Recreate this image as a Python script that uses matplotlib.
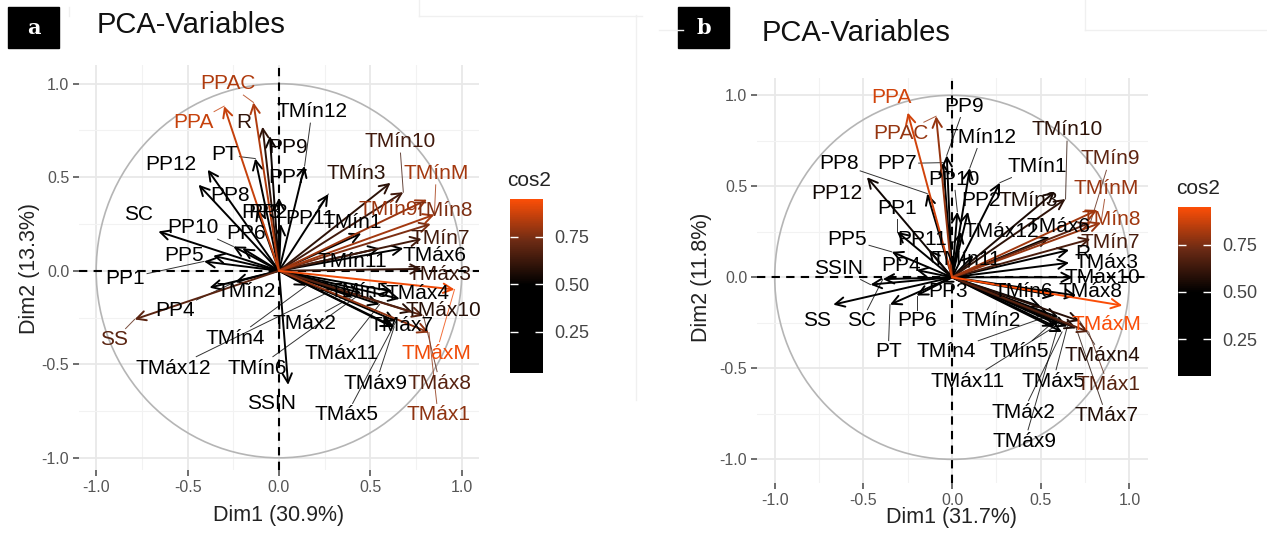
import numpy as np
import matplotlib
matplotlib.use("Agg")
import matplotlib.pyplot as plt
from matplotlib.patches import FancyArrowPatch, Circle, Rectangle
from matplotlib.colors import LinearSegmentedColormap, Normalize
from matplotlib.cm import ScalarMappable
from matplotlib.lines import Line2D

plt.rcParams['font.family'] = ['Liberation Sans', 'DejaVu Sans']

# ---------------- panel a data ----------------
names_a = ['PPAC', 'PPA', 'R', 'PP9', 'TMín12', 'PT', 'PP7', 'PP12', 'PP8', 'PP3',
           'PP2', 'PP11', 'TMín1', 'TMín3', 'TMín10', 'TMínM', 'TMín9', 'TMín8', 'TMín7',
           'TMín11', 'TMáx6', 'TMáx3', 'SC', 'PP10', 'PP6', 'PP5', 'PP1', 'TMín2', 'PP4',
           'SS', 'SSIN', 'TMín4', 'TMáx12', 'TMín6', 'TMáx2', 'TMáx11', 'TMín5', 'TMáx4',
           'TMáx10', 'TMáx7', 'TMáxM', 'TMáx9', 'TMáx5', 'TMáx8', 'TMáx1']
dim1_a = [-0.14, -0.30, -0.09, -0.05, 0.14, -0.13, 0.00, -0.39, -0.44, -0.12,
          0.01, 0.27, 0.45, 0.61, 0.68, 0.85, 0.81, 0.83, 0.78,
          0.55, 0.68, 0.78, -0.66, -0.25, -0.20, -0.36, -0.41, -0.38, -0.24,
          -0.79, 0.05, 0.15, 0.30, 0.45, 0.40, 0.55, 0.62, 0.66,
          0.73, 0.62, 0.96, 0.63, 0.64, 0.79, 0.82]
dim2_a = [0.90, 0.88, 0.77, 0.72, 0.56, 0.60, 0.39, 0.54, 0.46, 0.33,
          0.25, 0.41, 0.20, 0.47, 0.42, 0.30, 0.38, 0.25, 0.17,
          0.12, 0.12, 0.01, 0.21, 0.13, 0.12, 0.08, 0.05, -0.09, -0.06,
          -0.26, -0.61, -0.08, -0.10, -0.12, -0.14, -0.18, -0.11, -0.15,
          -0.22, -0.30, -0.10, -0.30, -0.27, -0.24, -0.33]

# ---------------- panel b data ----------------
names_b = ['PPA', 'PPAC', 'PP9', 'TMín12', 'PP8', 'PP7', 'PP12', 'PP10', 'PP1', 'PP11',
           'PP5', 'PP4', 'SSIN', 'SC', 'PT', 'PP6', 'PP3', 'SS', 'PP2', 'TMín1',
           'TMín3', 'TMín10', 'TMín9', 'TMínM', 'TMín8', 'TMín7', 'TMáx12', 'TMáx6', 'R',
           'TMáx3', 'TMáx10', 'TMín11', 'TMáx8', 'TMín6', 'TMáxM', 'TMín2', 'TMín4',
           'TMín5', 'TMáxn4', 'TMáx11', 'TMáx5', 'TMáx1', 'TMáx2', 'TMáx7', 'TMáx9']
dim1_b = [-0.25, -0.09, -0.03, 0.10, -0.14, -0.05, -0.48, 0.03, -0.31, -0.13,
          -0.34, -0.20, -0.46, -0.39, -0.35, -0.20, -0.06, -0.67, 0.09, 0.27,
          0.58, 0.64, 0.78, 0.84, 0.82, 0.78, 0.05, 0.55, 0.66,
          0.66, 0.68, 0.12, 0.70, 0.58, 0.96, 0.50, 0.55,
          0.60, 0.72, 0.58, 0.65, 0.77, 0.62, 0.70, 0.60]
dim2_b = [0.905, 0.885, 0.67, 0.60, 0.46, 0.63, 0.55, 0.36, 0.25, 0.15,
          0.14, 0.04, -0.04, -0.01, -0.15, -0.10, -0.03, -0.15, 0.36, 0.52,
          0.47, 0.43, 0.30, 0.30, 0.37, 0.21, 0.25, 0.22, 0.15,
          0.08, 0.00, 0.12, -0.10, -0.10, -0.155, -0.16, -0.21,
          -0.22, -0.24, -0.27, -0.27, -0.30, -0.30, -0.28, -0.26]

# repelled label positions (layout, data units)
lab_a = {'PPAC': (-0.28, 1.00), 'PPA': (-0.47, 0.79), 'R': (-0.19, 0.79), 'PP9': (0.05, 0.66),
         'TMín12': (0.18, 0.85), 'PT': (-0.30, 0.62), 'PP7': (0.05, 0.50), 'PP12': (-0.59, 0.57),
         'PP8': (-0.27, 0.40), 'PP3': (-0.10, 0.31), 'PP2': (-0.06, 0.31), 'PP11': (0.17, 0.28),
         'TMín1': (0.40, 0.26), 'TMín3': (0.42, 0.52), 'TMín10': (0.66, 0.69), 'TMínM': (0.86, 0.52),
         'TMín9': (0.60, 0.33), 'TMín8': (0.90, 0.32), 'TMín7': (0.88, 0.17), 'TMín11': (0.40, 0.05),
         'TMáx6': (0.85, 0.08), 'TMáx3': (0.88, -0.02), 'SC': (-0.77, 0.30), 'PP10': (-0.47, 0.23),
         'PP6': (-0.18, 0.20), 'PP5': (-0.52, 0.08), 'PP1': (-0.84, -0.04), 'TMín2': (-0.18, -0.11),
         'PP4': (-0.57, -0.21), 'SS': (-0.90, -0.37), 'SSIN': (-0.04, -0.71), 'TMín4': (-0.24, -0.36),
         'TMáx12': (-0.58, -0.52), 'TMín6': (-0.12, -0.52), 'TMáx2': (0.14, -0.28),
         'TMáx11': (0.34, -0.44), 'TMín5': (0.44, -0.11), 'TMáx4': (0.76, -0.12),
         'TMáx10': (0.90, -0.21), 'TMáx7': (0.67, -0.29), 'TMáxM': (0.86, -0.44),
         'TMáx9': (0.53, -0.60), 'TMáx5': (0.37, -0.77), 'TMáx8': (0.88, -0.60), 'TMáx1': (0.87, -0.77)}
lab_b = {'PPA': (-0.34, 0.99), 'PPAC': (-0.29, 0.79), 'PP9': (0.07, 0.94), 'TMín12': (0.165, 0.77),
         'PP8': (-0.64, 0.625), 'PP7': (-0.31, 0.625), 'PP12': (-0.65, 0.46), 'PP10': (0.01, 0.54),
         'PP1': (-0.31, 0.38), 'PP11': (-0.17, 0.21), 'PP5': (-0.59, 0.21), 'PP4': (-0.29, 0.065),
         'SSIN': (-0.64, 0.05), 'SC': (-0.51, -0.24), 'PT': (-0.36, -0.41), 'PP6': (-0.20, -0.24),
         'PP3': (-0.02, -0.08), 'SS': (-0.76, -0.24), 'PP2': (0.165, 0.42), 'TMín1': (0.48, 0.61),
         'TMín3': (0.43, 0.42), 'TMín10': (0.65, 0.81), 'TMín9': (0.89, 0.65), 'TMínM': (0.87, 0.49),
         'TMín8': (0.90, 0.32), 'TMín7': (0.89, 0.19), 'TMáx12': (0.28, 0.25), 'TMáx6': (0.60, 0.28),
         'R': (0.74, 0.13), 'TMáx3': (0.87, 0.08), 'TMáx10': (0.845, 0.0), 'TMín11': (0.08, 0.10),
         'TMáx8': (0.78, -0.08), 'TMín6': (0.40, -0.08), 'TMáxM': (0.87, -0.26),
         'TMín2': (0.22, -0.24), 'TMín4': (-0.03, -0.41), 'TMín5': (0.38, -0.41),
         'TMáxn4': (0.845, -0.43), 'TMáx11': (0.09, -0.57), 'TMáx5': (0.57, -0.57),
         'TMáx1': (0.88, -0.59), 'TMáx2': (0.40, -0.74), 'TMáx7': (0.87, -0.76), 'TMáx9': (0.41, -0.90)}

W, H = 1267, 533
fig = plt.figure(figsize=(W / 100, H / 100), dpi=100)


def px_axes(left, top, right, bottom):
    return fig.add_axes([left / W, 1 - bottom / H, (right - left) / W, (bottom - top) / H])


def make_cmap(vmin, vmax):
    mid = (0.5 - vmin) / (vmax - vmin)
    return LinearSegmentedColormap.from_list(
        'cos2', [(0, '#000000'), (mid, '#000000'), (mid + (1 - mid) * 0.5, '#6a2a14'),
                 (1, '#FC4E07')])


def pca_panel(ax, names, d1, d2, labpos, xlim, ylim, cmap, norm):
    ax.set_xlim(*xlim)
    ax.set_ylim(*ylim)
    for s in ax.spines.values():
        s.set_visible(False)
    ax.set_xticks([-1, -0.5, 0, 0.5, 1])
    ax.set_yticks([-1, -0.5, 0, 0.5, 1])
    ax.set_xticks([-0.75, -0.25, 0.25, 0.75], minor=True)
    ax.set_yticks([-0.75, -0.25, 0.25, 0.75], minor=True)
    ax.set_xticklabels(['-1.0', '-0.5', '0.0', '0.5', '1.0'])
    ax.set_yticklabels(['-1.0', '-0.5', '0.0', '0.5', '1.0'])
    ax.tick_params(which='major', length=4, width=1.2, color='#555555',
                   labelsize=11.5, labelcolor='#555555', pad=3)
    ax.tick_params(which='minor', length=0)
    ax.grid(True, which='major', color='#e8e8e8', lw=1.3, zorder=0)
    ax.grid(True, which='minor', color='#f2f2f2', lw=0.8, zorder=0)
    ax.set_axisbelow(True)
    ax.add_patch(Circle((0, 0), 1, fill=False, ec='#b5b5b5', lw=1.2, zorder=1))
    ax.axhline(0, color='black', ls=(0, (4, 3)), lw=1.5, zorder=1.5)
    ax.axvline(0, color='black', ls=(0, (4, 3)), lw=1.5, zorder=1.5)

    cos2 = np.array(d1) ** 2 + np.array(d2) ** 2
    colors = [cmap(norm(c)) for c in cos2]
    order = np.argsort(cos2)
    for i in order:
        ax.add_patch(FancyArrowPatch((0, 0), (d1[i], d2[i]),
                                     arrowstyle='->,head_length=0.55,head_width=0.28',
                                     mutation_scale=12, color=colors[i], lw=1.4,
                                     shrinkA=0, shrinkB=0, zorder=3))
    texts = []
    for i, n in enumerate(names):
        lx, ly = labpos[n]
        texts.append(ax.text(lx, ly, n, color=colors[i], fontsize=15,
                             ha='center', va='center', zorder=4))
    fig.canvas.draw()
    inv = ax.transData.inverted()
    for i, t in enumerate(texts):
        bb = t.get_window_extent()
        (x0, y0), (x1, y1) = inv.transform([[bb.x0, bb.y0], [bb.x1, bb.y1]])
        cx, cy = (x0 + x1) / 2, (y0 + y1) / 2
        hw, hh = (x1 - x0) / 2 + 0.01, (y1 - y0) / 2 + 0.01
        dx, dy = d1[i] - cx, d2[i] - cy
        if abs(dx) <= hw and abs(dy) <= hh:
            continue
        s = min(hw / abs(dx) if dx else np.inf, hh / abs(dy) if dy else np.inf)
        sx, sy = cx + dx * s, cy + dy * s
        if np.hypot(d1[i] - sx, d2[i] - sy) < 0.06:
            continue
        ax.plot([sx, d1[i]], [sy, d2[i]], color=colors[i], lw=0.7, alpha=0.8, zorder=2.5)
    return cos2


def axis_labels(xlab, ylab, xc, yc_x, yl_x, yl_y):
    fig.text(xc / W, 1 - yc_x / H, xlab, fontsize=15.5, color='#222222',
             ha='center', va='center')
    fig.text(yl_x / W, 1 - yl_y / H, ylab, rotation=90, fontsize=15.5,
             color='#222222', ha='center', va='center')


def colorbar(left, top, right, bottom, cmap, norm, title_xy):
    cax = px_axes(left, top, right, bottom)
    cb = fig.colorbar(ScalarMappable(norm=norm, cmap=cmap), cax=cax)
    cb.outline.set_visible(False)
    cb.set_ticks([0.25, 0.5, 0.75])
    cb.set_ticklabels(['0.25', '0.50', '0.75'])
    cax.tick_params(axis='y', direction='in', color='white', length=6, width=1,
                    left=True, right=True, labelsize=13, labelcolor='#444444', pad=8)
    fig.text(title_xy[0] / W, 1 - title_xy[1] / H, 'cos2', fontsize=15,
             color='#222222', ha='left', va='center')


# panel a
cmap_a = make_cmap(0.034, 0.95)
norm_a = Normalize(0.034, 0.95)
ax_a = px_axes(79, 65, 479, 470)
pca_panel(ax_a, names_a, dim1_a, dim2_a, lab_a, (-1.094, 1.094), (-1.065, 1.10),
          cmap_a, norm_a)
axis_labels('Dim1 (30.9%)', 'Dim2 (13.3%)', 279, 516, 29, 268)
colorbar(510, 199, 543, 373, cmap_a, norm_a, (507, 180))

# panel b
cmap_b = make_cmap(0.054, 0.95)
norm_b = Normalize(0.054, 0.95)
ax_b = px_axes(757, 78, 1148, 483)
pca_panel(ax_b, names_b, dim1_b, dim2_b, lab_b, (-1.10, 1.105), (-1.13, 1.095),
          cmap_b, norm_b)
axis_labels('Dim1 (31.7%)', 'Dim2 (11.8%)', 952, 518, 702, 277)
colorbar(1178, 207, 1211, 376, cmap_b, norm_b, (1176, 188))

# titles and panel letters
fig.text(97 / W, 1 - 25 / H, 'PCA-Variables', fontsize=21, color='#111111',
         ha='left', va='center')
fig.text(762 / W, 1 - 33 / H, 'PCA-Variables', fontsize=21, color='#111111',
         ha='left', va='center')
for (x0, x1, letter) in [(8, 59, 'a'), (678, 729, 'b')]:
    fig.add_artist(Rectangle((x0 / W, 1 - 48 / H), (x1 - x0) / W, 41 / H,
                             transform=fig.transFigure, color='black'))
    fig.text((x0 + x1) / 2 / W, 1 - 28 / H, letter, fontsize=15, color='white',
             family='DejaVu Serif', weight='bold', ha='center', va='center')

# faint crop lines from the source figure
for xs, ys in [([69, 69], [7, 16]), ([419, 419], [0, 16]), ([419, 642], [16, 16]),
               ([636, 636], [15, 400]), ([659, 683], [30, 30]), ([1085, 1085], [0, 30]),
               ([1085, 1267], [30, 30])]:
    fig.add_artist(Line2D([x / W for x in xs], [1 - y / H for y in ys],
                          transform=fig.transFigure, color='#f0f0f0', lw=1))

fig.savefig('out.png', dpi=100)
